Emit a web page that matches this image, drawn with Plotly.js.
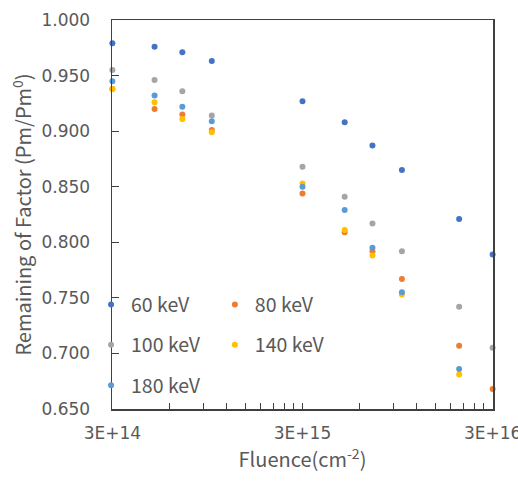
<!DOCTYPE html>
<html>
<head>
<meta charset="utf-8">
<script src="https://cdn.plot.ly/plotly-3.0.1.min.js"></script>
<style>html,body{margin:0;padding:0;background:#fff;}#chart{width:518px;height:482px;}</style>
</head>
<body>
<div id="chart"></div>
<script>
const fluence = [3e14, 5e14, 7e14, 1e15, 3e15, 5e15, 7e15, 1e16, 2e16, 3e16];
const kev60  = [0.979, 0.976, 0.971, 0.963, 0.927, 0.908, 0.887, 0.865, 0.821, 0.789];
const kev80  = [0.938, 0.920, 0.915, 0.901, 0.844, 0.809, 0.792, 0.767, 0.707, 0.668];
const kev100 = [0.955, 0.946, 0.936, 0.914, 0.868, 0.841, 0.817, 0.792, 0.742, 0.705];
const kev140 = [0.938, 0.926, 0.911, 0.899, 0.853, 0.811, 0.788, 0.753, 0.681, null];
const kev180 = [0.945, 0.932, 0.922, 0.909, 0.850, 0.829, 0.795, 0.755, 0.686, null];
const seriesNames = ['60 keV', '80 keV', '100 keV', '140 keV', '180 keV'];
const xTickVals = [3e14, 3e15, 3e16];
const xTickText = ['3E+14', '3E+15', '3E+16'];
const xMinorVals = [6e14, 9e14, 1.2e15, 1.5e15, 1.8e15, 2.1e15, 2.4e15, 2.7e15,
                    6e15, 9e15, 1.2e16, 1.5e16, 1.8e16, 2.1e16, 2.4e16, 2.7e16];

const colors = ['#4472C4', '#ED7D31', '#A5A5A5', '#FFC000', '#5B9BD5'];
const ys = [kev60, kev80, kev100, kev140, kev180];
const legendOf = ['legend', 'legend2', 'legend', 'legend2', 'legend'];
const FONT = '"Noto Sans CJK JP", "Noto Sans", sans-serif';
const TICKFONT = '"DejaVu Sans", sans-serif';
const TXT = '#595959';
const LINE = '#404040';

const traces = ys.map((y, i) => ({
  type: 'scatter', mode: 'markers',
  x: fluence, y: y, name: seriesNames[i],
  legend: legendOf[i], legendgroup: seriesNames[i],
  marker: {color: colors[i], size: 6},
  cliponaxis: false
}));

const legendCommon = {
  font: {family: FONT, size: 19.5, color: TXT},
  bgcolor: 'rgba(0,0,0,0)', borderwidth: 0,
  xanchor: 'left', yanchor: 'top', tracegroupgap: 12,
  itemwidth: 30
};

const eps = 0.002;
const layout = {
  width: 518, height: 482,
  margin: {l: 112, r: 25, t: 20, b: 73},
  paper_bgcolor: '#fff', plot_bgcolor: '#fff',
  font: {family: FONT, size: 19, color: TXT},
  showlegend: true,
  legend: Object.assign({}, legendCommon, {x: -0.055, y: 0.318}),
  legend2: Object.assign({}, legendCommon, {x: 0.27, y: 0.318}),
  xaxis: {
    type: 'log',
    range: [Math.log10(3e14) - eps, Math.log10(3e16) + eps],
    tickmode: 'array', tickvals: xTickVals, ticktext: xTickText,
    ticks: 'inside', ticklen: 6, tickcolor: LINE, tickwidth: 1,
    minor: {tickmode: 'array', tickvals: xMinorVals, ticks: 'inside', ticklen: 6, tickcolor: LINE, tickwidth: 1, showgrid: false},
    showline: true, linecolor: LINE, linewidth: 1.5, mirror: true,
    showgrid: false, zeroline: false,
    tickfont: {family: TICKFONT, size: 17, color: TXT},
    ticklabelstandoff: 8,
    ticklabeloverflow: 'allow',
    title: {text: 'Fluence(cm<sup>-2</sup>)', font: {family: FONT, size: 20, color: TXT}, standoff: 9}
  },
  yaxis: {
    range: [0.65, 1.0],
    tickmode: 'linear', tick0: 0.65, dtick: 0.05, tickformat: '.3f',
    ticks: 'inside', ticklen: 7, tickcolor: LINE, tickwidth: 1,
    showline: true, linecolor: LINE, linewidth: 1.5, mirror: true,
    showgrid: false, zeroline: false,
    tickfont: {family: TICKFONT, size: 17, color: TXT},
    ticklabelstandoff: 17,
    title: {text: 'Remaining of Factor (Pm/Pm<sup>0</sup>)', font: {family: FONT, size: 20, color: TXT}, standoff: 4}
  }
};

Plotly.newPlot('chart', traces, layout, {displayModeBar: false, staticPlot: true});
</script>
</body>
</html>
